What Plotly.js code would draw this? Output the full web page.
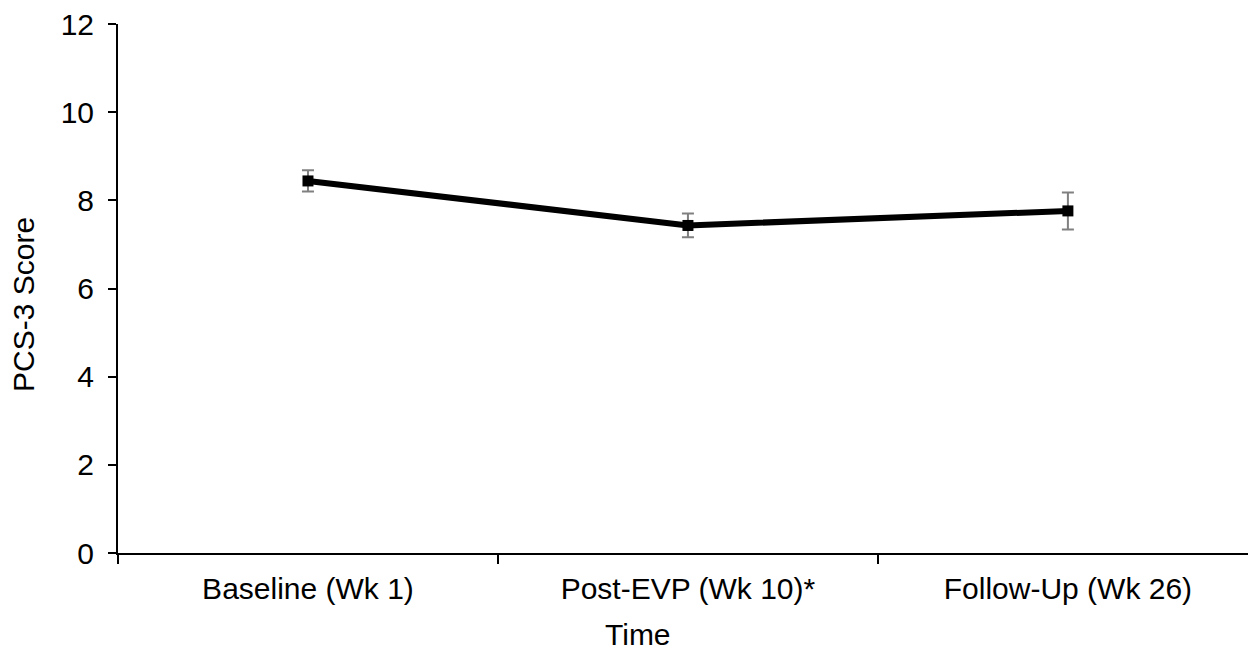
<!DOCTYPE html>
<html>
<head>
<meta charset="utf-8">
<script src="https://cdn.plot.ly/plotly-3.0.1.min.js"></script>
<style>html,body{margin:0;padding:0;background:#fff;}#chart{width:1248px;height:652px;}</style>
</head>
<body>
<div id="chart"></div>
<script>
const categories = ["Baseline (Wk 1)", "Post-EVP (Wk 10)*", "Follow-Up (Wk 26)"];
const scores = [8.44, 7.43, 7.76];
const errors = [0.24, 0.27, 0.42];
const yTickVals = [0, 2, 4, 6, 8, 10, 12];

const FONT = "Liberation Sans, Arial, sans-serif";

const trace = {
  type: "scatter",
  mode: "lines+markers",
  x: categories,
  y: scores,
  line: {color: "#000000", width: 6},
  marker: {symbol: "square", size: 11, color: "#000000"},
  error_y: {type: "data", array: errors, visible: true, color: "#808080", thickness: 2, width: 6},
  showlegend: false,
  hoverinfo: "x+y"
};

const layout = {
  width: 1248, height: 652, autosize: false,
  margin: {l: 118, r: 0, t: 24, b: 99, pad: 0},
  paper_bgcolor: "#ffffff", plot_bgcolor: "#ffffff",
  font: {family: FONT, size: 30, color: "#000000"},
  xaxis: {
    type: "category",
    range: [-0.5, 2.474],
    showline: true, linecolor: "#000000", linewidth: 2,
    ticks: "outside", tickson: "boundaries", ticklen: 9, tickwidth: 2, tickcolor: "#000000",
    ticklabelstandoff: 8,
    showgrid: false, zeroline: false,
    tickfont: {family: FONT, size: 30, color: "#000000"}
  },
  yaxis: {
    range: [0, 12],
    tickvals: yTickVals,
    ticktext: yTickVals.map(String),
    showline: true, linecolor: "#000000", linewidth: 2,
    ticks: "outside", ticklen: 8, tickwidth: 2, tickcolor: "#000000",
    ticklabelstandoff: 8,
    showgrid: false, zeroline: false,
    tickfont: {family: FONT, size: 30, color: "#000000"}
  },
  annotations: [
    {text: "Time", xref: "paper", yref: "paper", x: (638 - 118) / 1130, y: -(634 - 553) / 529,
     xanchor: "center", yanchor: "middle", showarrow: false,
     font: {family: FONT, size: 30, color: "#000000"}},
    {text: "PCS-3 Score", xref: "paper", yref: "paper", x: -(118 - 23) / 1130, y: (553 - 305) / 529,
     xanchor: "center", yanchor: "middle", showarrow: false, textangle: -90,
     font: {family: FONT, size: 30, color: "#000000"}}
  ]
};

Plotly.newPlot("chart", [trace], layout, {displayModeBar: false, staticPlot: true});
</script>
</body>
</html>
